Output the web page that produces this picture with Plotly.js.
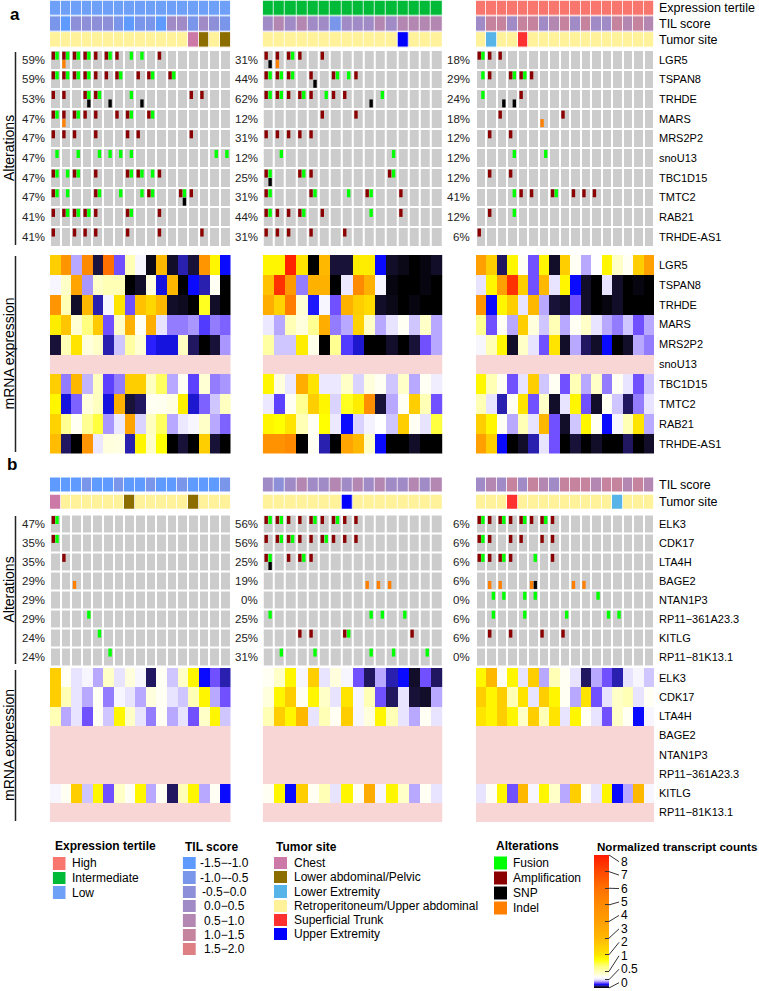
<!DOCTYPE html>
<html><head><meta charset="utf-8">
<script src="https://cdn.plot.ly/plotly-3.0.1.min.js"></script>
<style>body{margin:0;background:#fff}#chart{width:759px;height:991px}</style>
</head><body><div id="chart"></div>
<script>
// ---------------- DATA ----------------
const tertileLevels = ['High','Intermediate','Low'];
const tilLevels = ['-1.5\u2212-1.0','-1.0\u2212-0.5','-0.5\u22120.0','0.0\u22120.5','0.5\u22121.0','1.0\u22121.5','1.5\u22122.0'];
const siteLevels = ['Chest','Lower abdominal/Pelvic','Lower Extremity','Retroperitoneum/Upper abdominal','Superficial Trunk','Upper Extremity'];
const altLevels = ['Fusion','Amplification','SNP','Indel'];
const altCodes = ['F','A','S','I'];

const groupTertile = ['Low','Intermediate','High'];

const genesA = ['LGR5','TSPAN8','TRHDE','MARS','MRS2P2','snoU13','TBC1D15','TMTC2','RAB21','TRHDE-AS1'];
const genesB = ['ELK3','CDK17','LTA4H','BAGE2','NTAN1P3','RP11\u2212361A23.3','KITLG','RP11\u221281K13.1'];

const pctA = [
  ['59%','59%','53%','47%','47%','47%','47%','47%','41%','41%'],
  ['31%','44%','62%','12%','31%','12%','25%','31%','44%','31%'],
  ['18%','29%','24%','18%','12%','12%','12%','41%','12%','6%']];
const pctB = [
  ['47%','35%','35%','29%','29%','29%','24%','24%'],
  ['56%','56%','25%','19%','0%','25%','25%','31%'],
  ['6%','6%','6%','6%','0%','6%','6%','0%']];

// TIL score category index per sample
const tilA_low  = [1,0,2,2,2,2,1,0,1,1,0,3,3,1,3,2,1];
const tilA_mid  = [3,4,3,4,3,3,1,3,3,3,4,3,4,4,4,4];
const tilA_high = [3,5,5,3,5,5,3,4,5,3,5,3,3,5,4,5,4];
const tilB_low  = [0,0,0,1,0,0,1,0,0,1,0,0,1,0,0,0,1];
const tilB_mid  = [3,2,3,4,3,3,4,3,4,3,4,3,3,4,3,4];
const tilB_high = [3,4,3,5,3,5,4,3,5,5,5,4,5,5,4,5,4];

// Tumor site category index per sample
const siteA_low  = [3,3,3,3,3,3,3,3,3,3,3,3,3,0,1,3,1];
const siteA_mid  = [3,3,3,3,3,3,3,3,3,3,3,3,5,3,3,3];
const siteA_high = [3,2,3,3,4,3,3,3,3,3,3,3,3,3,3,3,3];
const siteB_low  = [0,3,3,3,3,3,3,1,3,3,3,3,3,1,3,3,3];
const siteB_mid  = [3,3,3,3,3,3,3,5,3,3,3,3,3,3,3,3];
const siteB_high = [3,3,3,4,3,3,3,3,3,3,3,3,3,2,3,3,3];

// Alterations: one token per sample (F fusion, A amplification, S SNP, I indel, - none)
const altA_low = [
 'AF AFI AF AF A AF A F F - A - - - - - -',
 'AF AF AF AF A A AF - A AF - AF - - - - -',
 'A A - AFS AF S - F S - - - - A A - -',
 'AF AI AF A A - A AF - AF - - - - - - -',
 'A A A - A - - A A - - - - A - - -',
 'F - F - F F F F - - - - - - - F F',
 'AF F AF - A - - AF AF F A - - - - - -',
 'AF F - - AF - F - F AF - - AFS A - - -',
 'A AF AF AF A - - AF - - A - - - - - -',
 'A - A A A - - A - - A - - - A - -'];
const altA_mid = [
 'AS AI AF A - A - - - - - - - - - -',
 'AF AF AF - AS - AF F A - - - - - - -',
 'AF AF A AF A F A A - S F - - - - -',
 '- - - - - A - - A - - - - - - -',
 'A A A A A - - - - - - - - - - -',
 '- F - - - - - - - - - F - - - -',
 'AFS - - AF A - - - - - - AF - - - -',
 'AF - - - AF - - F - AF - - A - - -',
 'AF A A AF - A - - - F - - A - - -',
 'A A A - A - - A - - - - - - - -'];
const altA_high = [
 'AF A A - - - - - - - - - - - - - -',
 'F A - AF AF A - - - - - - - - - - -',
 'F - S S A - - - - - - - - - - - -',
 '- - A - - - I - A - - - - - - - -',
 '- A - A - - - - - - - - - - - - -',
 '- - - F - - F - - - - - - - - - -',
 '- A - A - - - - - - - - - - - - -',
 '- - - F A A - AF - A A A - - - - -',
 '- A - F - - - - - - - - - - - - -',
 'A - - - - - - - - - - - - - - - -'];
const altB_low = [
 'AF - - - - - - - - - - - - - - - -',
 'AF - - - - - - - - - - - - - - - -',
 '- A - - - - - - - - - - - - - - -',
 '- - I - - - - - - - - - - - - - -',
 '- - - - - - - - - - - - - - - - -',
 '- - - F - - - - - - - - - - - - -',
 '- - - - F - - - - - - - - - - - -',
 '- - - - - F - - - - - - - - - - -'];
const altB_mid = [
 'AF AF A A AF A AF A A - - - - - - -',
 'A AF AF A A AF A A A - - - - - - -',
 'AFS - A AF A - - - - - - - - - - -',
 '- - - - - - - - - I I I - - - -',
 '- - - - - - - - - - - - - - - -',
 'F - - - - - - - - F F - F - - -',
 '- - - A A - - AF - - - - - A - -',
 '- F - - F - - - - F - F - - F -'];
const altB_high = [
 'AF A AF A AF A AF A - - - - - - - - -',
 'AF A - A A - A A - - - - - - - - -',
 'AF A AF A - F - A - - - - - - - - -',
 '- I I - - IS - - - I I - - - - - -',
 '- F F - F F - - - - - F - - - - -',
 '- F - - F - - - F - - - F F - - -',
 '- A - A - - A - A - - - - - - - -',
 '- - - - - - - - - - - - - - - - -'];

// mRNA normalized transcript counts (null = not available)
const mrnaA_low = [
 [2.5,4.5,0.4,5,0.08,6,0.3,1.0,0.6,0.03,3,0.05,0.15,0.07,4.5,1.8,0.2],
 [0.6,0.9,3.8,0.38,0.9,1.0,1.0,0,0.05,0.8,0.18,3,0,0.2,0.15,0.7,0],
 [4.5,1.0,0.05,3,0.15,0.6,2,0.3,2.8,2.3,3,0.05,0.04,0,1.6,0.05,0],
 [1.9,2.7,0.85,1.3,2.6,0.3,0.9,3.3,0.7,3.4,0.5,0.35,0.35,0.38,0.27,0.35,0.32],
 [0.07,1.0,2,0.8,0.9,0.15,0.45,1.1,0.85,0.23,0.18,0.18,0.95,0.1,0,0.07,0.38],
 [null,null,null,null,null,null,null,null,null,null,null,null,null,null,null,null,null],
 [2.5,0.35,3,0.42,0.95,0.28,0.35,2.5,2.5,0.95,1.4,0.4,0.7,0.28,0.85,0.35,0.38],
 [1.8,0.18,0.32,0.8,0.95,0.18,3.3,0.07,0.1,0.7,0.72,0.78,1.9,0.17,0.32,0.45,0.95],
 [2.4,1.2,0.7,1.2,1.5,0.38,0.52,3.8,0.47,0.95,1.4,0.4,0.52,0.6,0.9,0.4,0.32],
 [2.9,0.1,0,4.5,0.52,0.8,0.78,0.15,1.8,0.9,1.7,0,0.07,0,2.5,0.07,0]];
const mrnaA_mid = [
 [1.8,1.8,7.8,2,0,3,0.07,0.07,1.9,1.9,0.2,0.05,0.03,0,0.02,0.05],
 [2.8,7.5,4.2,0.35,3.3,3.3,0,0.52,5,3.3,0.6,0.02,0,0,0.02,0],
 [3.4,2.4,5.5,0.85,0.22,0.6,0.3,3.3,2.5,2.2,0.05,0.03,0,0.02,0,0],
 [0.52,0.4,1.0,0.8,1.2,3.4,0.35,0.4,2.4,0.9,0.4,0.5,0.7,0.45,0.9,0.4],
 [1.1,0.45,0.45,1.9,0.75,0,1.2,0.27,0.17,0,0,0.05,0,0.07,0.3,0.4],
 [null,null,null,null,null,null,null,null,null,null,null,null,null,null,null,null],
 [1.8,0.8,0.52,3.4,2,0.52,0.52,0.9,0.47,0.8,0.7,0.45,0.9,0.4,0.7,0.55],
 [0.52,0.28,0.7,1.2,2.5,1.8,0.47,1.6,1.9,4.8,0.07,0.4,0.7,2.5,1.0,0.3],
 [1.8,1.7,2,1.0,0.7,1.7,0.52,0.2,0.47,0.58,0.65,0.45,2.5,0.7,0.5,1.5],
 [4.6,4.6,5,0,0.7,0.15,0,3.8,3,0.9,0.2,0,0,0.05,0,0]];
const mrnaA_high = [
 [4,2.5,0.1,1.8,0.7,0.3,1.8,0.05,2.5,0.7,0.4,0.65,1.8,0.9,0.7,2.5,4],
 [0.5,1.8,4,7.5,2.5,0.3,3,0.5,1.8,0.2,0.05,0,0.5,0.05,0,0.02,0],
 [4.5,0.2,1.8,2.5,0.5,3,0.4,0.07,0.05,0.3,0.05,0,0.02,0.05,0,0,0],
 [1.2,0.3,0.7,0.4,2.5,0.8,0.45,1.0,0.4,0.7,0.9,0.5,0.4,0.35,0.45,0.3,0.4],
 [0.6,1.0,1.8,0.05,0.9,0.5,0.3,2,0.05,0.4,0.1,0.05,0.2,0,0.05,0.4,0.35],
 [null,null,null,null,null,null,null,null,null,null,null,null,null,null,null,null,null],
 [1.8,1.0,0.7,0.3,0.5,2.5,0.45,0.7,0.3,1.0,0.4,0.9,0.35,0.7,0.5,0.3,0.45],
 [1.0,0.5,0.15,0.7,2,0.3,0.9,0.05,0.5,1.8,0.3,0.05,0.7,0.45,0.1,0.35,0.5],
 [2.5,1.8,0.7,0.4,1.0,0.5,3,0.3,0.05,0.45,1.8,0.7,0.2,0.6,1.0,2,0.4],
 [4,2.5,0.2,0,0.05,0.15,0.5,0.3,0,0.07,0,0.05,0,0,0.1,0,0.05]];
const mrnaB_low = [
 [2.5,0.7,0.5,0.6,0.4,0.9,0.5,0.8,0.6,0.1,0.7,0.45,0.9,1.8,0.2,0.3,0.15],
 [2.5,1.0,0.5,0.4,0.7,0.35,0.6,0.5,0.4,0.8,0.7,0.5,0.45,1.0,1.8,0.4,0.3],
 [1.0,0.4,0.5,0.3,0.7,0.45,1.8,0.9,0.5,0.35,0.7,0.4,0.5,0.3,0.9,1.8,0.45],
 [null,null,null,null,null,null,null,null,null,null,null,null,null,null,null,null,null],
 [null,null,null,null,null,null,null,null,null,null,null,null,null,null,null,null,null],
 [null,null,null,null,null,null,null,null,null,null,null,null,null,null,null,null,null],
 [0.6,0.7,2.5,0.45,1.8,0.3,0.9,0.7,1.8,0.4,0.7,0.1,1.0,1.8,0.4,0.7,0.2],
 [null,null,null,null,null,null,null,null,null,null,null,null,null,null,null,null,null]];
const mrnaB_mid = [
 [0.7,0.9,1.8,0.6,2.5,0.5,0.8,0.6,0.3,0.1,0.4,0.15,0.2,0.05,0.3,0.1],
 [0.8,1.8,2.5,0.7,1.8,0.9,0.5,2,0.6,1.0,0.3,0.1,0.5,0.07,0.05,0.4],
 [1.0,2.5,1.8,3,0.5,1.0,0.7,2.5,0.6,0.8,1.8,1.0,0.5,0.4,0.7,0.5],
 [null,null,null,null,null,null,null,null,null,null,null,null,null,null,null,null],
 [null,null,null,null,null,null,null,null,null,null,null,null,null,null,null,null],
 [null,null,null,null,null,null,null,null,null,null,null,null,null,null,null,null],
 [0.7,1.8,0.2,2.5,0.7,1.0,0.5,1.8,0.7,3.5,0.6,1.8,0.9,0.4,0.7,0.5],
 [null,null,null,null,null,null,null,null,null,null,null,null,null,null,null,null]];
const mrnaB_high = [
 [1.8,3,0.7,1.8,0.5,2.5,0.4,1.0,0.7,0.5,0.1,0.4,0.3,0.15,0.5,0.6,0.45],
 [2.5,1.8,2.5,1.0,2,0.5,2.5,1.8,0.7,0.4,2,0.3,0.5,0.9,1.0,0.5,0.7],
 [2,1.8,2.5,1.8,0.9,2.5,1.0,2,0.5,1.8,0.7,0.5,0.3,0.9,0.7,0.2,0.6],
 [null,null,null,null,null,null,null,null,null,null,null,null,null,null,null,null,null],
 [null,null,null,null,null,null,null,null,null,null,null,null,null,null,null,null,null],
 [null,null,null,null,null,null,null,null,null,null,null,null,null,null,null,null,null],
 [0.5,0.7,1.8,0.3,3,0.6,1.8,0.9,0.4,2.5,0.7,0.5,1.8,0.2,0.4,3,0.6],
 [null,null,null,null,null,null,null,null,null,null,null,null,null,null,null,null,null]];

const cbTickVals = [0,0.5,1,2,3,4,5,6,7,8];
const cbTickText = ['0','0.5','1','2','3','4','5','6','7','8'];

// ---------------- STYLE ----------------
const W = 759, H = 991;
const FONT = 'Liberation Sans, Arial, sans-serif';
const tertileColors = ['#F8766D','#00BA38','#6FA0F8'];
const tilColors = ['#5F9BFF','#7A96EA','#8D90D8','#A08BC6','#B387B2','#C6839E','#DE7F84'];
const siteColors = ['#CC79A7','#8C6D00','#56B4E9','#FFF29B','#FF3030','#0000FF'];
const altColors = ['#00FF00','#8B0000','#000000','#FF7F00'];
const grayCell = '#CCCCCC';
const naColor = '#F9D6D6';
const exprScale = [
 [0,'#000000'],[0.08,'#1C1440'],[0.15,'#2A20B0'],[0.2,'#0A0AFF'],[0.3,'#7050FF'],
 [0.4,'#B8A8FF'],[0.5,'#E8E4FF'],[0.65,'#FFFFFF'],[0.9,'#FFFFC8'],[1.3,'#FFFF80'],
 [1.7,'#FFFF00'],[2,'#FFE400'],[3,'#FFB800'],[4,'#FF9F00'],[5,'#FF8A00'],
 [6,'#FF7000'],[7,'#FF4800'],[8,'#FF1A00']].map(([v,c])=>[v/8,c]);

const fx = p => p / W;
const fy = p => 1 - p / H;
const dom = (top, bottom) => [fy(bottom), fy(top)];

function discreteScale(colors){
  const n = colors.length, cs = [];
  colors.forEach((c,i)=>{ cs.push([i/n,c]); cs.push([(i+1)/n,c]); });
  return cs;
}
const hidden = {visible:false, fixedrange:true, showgrid:false, zeroline:false};

const groupX = [[50,230.5],[262.7,442.3],[476,654]];
const groupAxes = ['x','x2','x3'];
const nCols = [tilA_low.length, tilA_mid.length, tilA_high.length];

const layout = {
  width:W, height:H, margin:{l:0,r:0,t:0,b:0},
  paper_bgcolor:'#fff', plot_bgcolor:'rgba(0,0,0,0)',
  showlegend:false, font:{family:FONT, size:11, color:'#000'},
  annotations:[], shapes:[]
};
groupAxes.forEach((ax,g)=>{
  const key = g===0 ? 'xaxis' : 'xaxis'+(g+1);
  layout[key] = Object.assign({}, hidden, {domain:[fx(groupX[g][0]), fx(groupX[g][1])], range:[-0.5, nCols[g]-0.5], anchor:'y'});
});
const yBlocks = [
  {id:'y',  top:0.5,   bottom:48,    n:3},
  {id:'y2', top:50,    bottom:246.5, n:10},
  {id:'y3', top:255,   bottom:453.5, n:10},
  {id:'y4', top:476.5, bottom:511,   n:2},
  {id:'y5', top:514.5, bottom:666,   n:8},
  {id:'y6', top:668,   bottom:822,   n:8}];
yBlocks.forEach(b=>{
  const key = b.id==='y' ? 'yaxis' : 'yaxis'+b.id.slice(1);
  layout[key] = Object.assign({}, hidden, {domain:dom(b.top,b.bottom), range:[b.n-0.5,-0.5], anchor:'x'});
});

const traces = [];
function catHeat(xa, ya, row, vals, colors, yGap){
  traces.push({type:'heatmap', xaxis:xa, yaxis:ya, z:[vals], x0:0, dx:1, y0:row, dy:1,
    colorscale:discreteScale(colors), zmin:-0.5, zmax:colors.length-0.5, showscale:false,
    xgap:0.8, ygap:yGap, hoverinfo:'skip'});
}
function altBlock(xa, ya, rows, markLen){
  const toks = rows.map(r=>r.trim().split(/\s+/));
  traces.push({type:'heatmap', xaxis:xa, yaxis:ya, z:toks.map(r=>r.map(()=>1)), x0:0, dx:1, y0:0, dy:1,
    colorscale:[[0,grayCell],[1,grayCell]], showscale:false, xgap:2, ygap:2, hoverinfo:'skip'});
  const off = {A:[-0.19,-0.21], F:[0.16,-0.21], S:[0.16,0.22], I:[-0.19,0.22]};
  altCodes.forEach((code,k)=>{
    const xs=[], ys=[];
    toks.forEach((r,ri)=>r.forEach((t,ci)=>{ if(t.includes(code)){ xs.push(ci+off[code][0]); ys.push(ri+off[code][1]); }}));
    if(!xs.length) return;
    traces.push({type:'scatter', mode:'markers', xaxis:xa, yaxis:ya, x:xs, y:ys, hoverinfo:'skip', cliponaxis:false,
      marker:{symbol:'line-ns', size:markLen/1.4, line:{width:3.4, color:altColors[k]}}});
  });
}
function exprBlock(xa, ya, z, withScale){
  traces.push({type:'heatmap', xaxis:xa, yaxis:ya, z:z.map(r=>r.map(v=>v===null?1:null)), x0:0, dx:1, y0:0, dy:1,
    colorscale:[[0,naColor],[1,naColor]], showscale:false, hoverinfo:'skip'});
  const t = {type:'heatmap', xaxis:xa, yaxis:ya, z:z, x0:0, dx:1, y0:0, dy:1,
    colorscale:exprScale, zmin:0, zmax:8, showscale:!!withScale, hoverinfo:'skip'};
  if(withScale){
    t.colorbar = {x:fx(594), xanchor:'left', y:fy(855), yanchor:'top', len:133/H, lenmode:'fraction',
      thickness:15, thicknessmode:'pixels', outlinewidth:0, xpad:0, ypad:0,
      tickvals:cbTickVals, ticks:'inside', ticklen:4, tickcolor:'#333', showticklabels:false};
  }
  traces.push(t);
}

const tilA = [tilA_low, tilA_mid, tilA_high], tilB = [tilB_low, tilB_mid, tilB_high];
const siteA = [siteA_low, siteA_mid, siteA_high], siteB = [siteB_low, siteB_mid, siteB_high];
const altA = [altA_low, altA_mid, altA_high], altB = [altB_low, altB_mid, altB_high];
const mrnaA = [mrnaA_low, mrnaA_mid, mrnaA_high], mrnaB = [mrnaB_low, mrnaB_mid, mrnaB_high];

groupAxes.forEach((xa,g)=>{
  const tert = tilA[g].map(()=>tertileLevels.indexOf(groupTertile[g]));
  catHeat(xa,'y',0,tert,tertileColors,1.5);
  catHeat(xa,'y',1,tilA[g],tilColors,1.5);
  catHeat(xa,'y',2,siteA[g],siteColors,1.5);
  altBlock(xa,'y2',altA[g],8);
  exprBlock(xa,'y3',mrnaA[g], g===0);
  catHeat(xa,'y4',0,tilB[g],tilColors,3);
  catHeat(xa,'y4',1,siteB[g],siteColors,3);
  altBlock(xa,'y5',altB[g],8);
  exprBlock(xa,'y6',mrnaB[g], false);
});

// ----- text -----
const A = layout.annotations;
function txt(o){ A.push(Object.assign({showarrow:false, xanchor:'center', yanchor:'middle', font:{family:FONT,size:11,color:'#000'}}, o)); }
const pctRight = [46.5, 259.5, 472.5];
[0,1,2].forEach(g=>{
  pctA[g].forEach((p,i)=>txt({text:p, xref:'paper', x:fx(pctRight[g]), xanchor:'right', yref:'y2', y:i, font:{family:FONT,size:11.5,color:'#222'}}));
  pctB[g].forEach((p,i)=>txt({text:p, xref:'paper', x:fx(pctRight[g]), xanchor:'right', yref:'y5', y:i, font:{family:FONT,size:11.5,color:'#222'}}));
});
const labX = fx(657);
genesA.forEach((gname,i)=>{
  txt({text:gname, xref:'paper', x:labX, xanchor:'left', yref:'y2', y:i});
  txt({text:gname, xref:'paper', x:labX, xanchor:'left', yref:'y3', y:i});
});
genesB.forEach((gname,i)=>{
  txt({text:gname, xref:'paper', x:labX, xanchor:'left', yref:'y5', y:i});
  txt({text:gname, xref:'paper', x:labX, xanchor:'left', yref:'y6', y:i});
});
['Expression tertile','TIL score','Tumor site'].forEach((s,i)=>txt({text:s, xref:'paper', x:labX, xanchor:'left', yref:'y', y:i, font:{family:FONT,size:12.5,color:'#000'}}));
['TIL score','Tumor site'].forEach((s,i)=>txt({text:s, xref:'paper', x:labX, xanchor:'left', yref:'y4', y:i, font:{family:FONT,size:12.5,color:'#000'}}));
txt({text:'<b>a</b>', xref:'paper', yref:'paper', x:fx(15), y:fy(14), font:{family:FONT,size:17,color:'#000'}});
txt({text:'<b>b</b>', xref:'paper', yref:'paper', x:fx(12), y:fy(465), font:{family:FONT,size:17,color:'#000'}});
[['Alterations',52,245],['mRNA expression',256,452],['Alterations',516,664],['mRNA expression',670,821]].forEach(([s,t,b])=>{
  txt({text:s, xref:'paper', yref:'paper', x:fx(8.5), y:fy((t+b)/2), textangle:-90, borderpad:0, font:{family:FONT,size:14,color:'#000'}});
  layout.shapes.push({type:'line', xref:'paper', yref:'paper', x0:fx(15.5), x1:fx(15.5), y0:fy(t), y1:fy(b), line:{color:'#222', width:1.5}});
});

// ----- legends (swatches drawn as small heatmaps) -----
const legends = [
  {title:'Expression tertile', levels:tertileLevels, colors:tertileColors, x:[52.7,65.7], top:856, pitch:14.7, labX:70, anchor:'left', titleY:846},
  {title:'TIL score', levels:tilLevels, colors:tilColors, x:[182.7,196], top:856, pitch:14.35, labX:224.7, anchor:'center', titleY:847},
  {title:'Tumor site', levels:siteLevels, colors:siteColors, x:[274,287.3], top:856, pitch:14.2, labX:291.7, anchor:'left', titleY:847},
  {title:'Alterations', levels:altLevels, colors:altColors, x:[494,507], top:855.5, pitch:15, labX:510.7, anchor:'left', titleY:846}];
legends.forEach((L,k)=>{
  const xn = 4+k, yn = 7+k;
  const n = L.levels.length;
  layout['xaxis'+xn] = Object.assign({}, hidden, {domain:[fx(L.x[0]),fx(L.x[1])], range:[-0.5,0.5], anchor:'y'+yn});
  layout['yaxis'+yn] = Object.assign({}, hidden, {domain:dom(L.top, L.top+n*L.pitch), range:[n-0.5,-0.5], anchor:'x'+xn});
  traces.push({type:'heatmap', xaxis:'x'+xn, yaxis:'y'+yn, z:L.levels.map((_,i)=>[i]), x0:0, dx:1, y0:0, dy:1,
    colorscale:discreteScale(L.colors), zmin:-0.5, zmax:n-0.5, showscale:false, ygap:2, hoverinfo:'skip'});
  txt({text:'<b>'+L.title+'</b>', xref:'paper', yref:'paper', x:fx(L.x[0]), xanchor:'left', y:fy(L.titleY), font:{family:FONT,size:12,color:'#000'}});
  L.levels.forEach((lv,i)=>txt({text:lv, xref:'paper', x:fx(L.labX), xanchor:L.anchor, yref:'y'+yn, y:i, font:{family:FONT,size:12,color:'#000'}}));
});
txt({text:'<b>Normalized transcript counts</b>', xref:'paper', yref:'paper', x:fx(594.5), xanchor:'left', y:fy(846), font:{family:FONT,size:11.6,color:'#000'}});
const cbTop = 855, cbBot = 988;
cbTickVals.forEach((v,i)=>{
  const tickPx = cbBot - v*(cbBot-cbTop)/8;
  const labPx = 982.7 - i*13.45;
  A.push({text:cbTickText[i], xref:'paper', yref:'paper', x:fx(609), y:fy(tickPx), ax:10, ay:labPx-tickPx,
    xanchor:'left', yanchor:'middle', showarrow:true, arrowhead:0, arrowwidth:0.8, arrowcolor:'#000', standoff:0, startstandoff:0,
    font:{family:FONT,size:12,color:'#000'}});
});

Plotly.newPlot('chart', traces, layout, {displayModeBar:false, staticPlot:true});
</script>
</body></html>
